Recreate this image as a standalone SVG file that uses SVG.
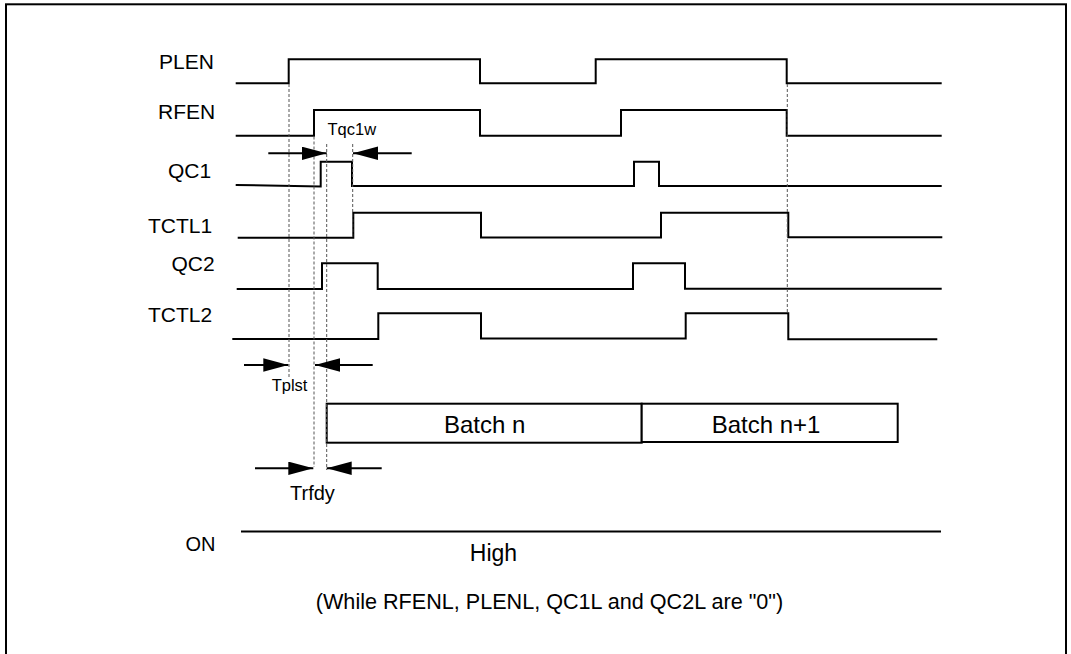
<svg xmlns="http://www.w3.org/2000/svg" width="1071" height="654" viewBox="0 0 1071 654">
<style>
text{font-family:"Liberation Sans",Arial,sans-serif;fill:#000}
.sig{font-size:21px}
.wave{fill:none;stroke:#000;stroke-width:2;stroke-linejoin:miter}
.dash{fill:none;stroke:#555;stroke-width:1;stroke-dasharray:3,2}
.arr{stroke:#000;stroke-width:2;marker-end:url(#ah)}
.box{fill:#fff;stroke:#000;stroke-width:2}
</style>
<defs>
<marker id="ah" markerUnits="userSpaceOnUse" markerWidth="26" markerHeight="14" refX="25" refY="6.7" orient="auto">
<path d="M0,0 L25,6.7 L0,13.4 Z" fill="#000"/>
</marker>
</defs>
<rect x="0" y="0" width="1071" height="654" fill="#fff"/>
<rect id="frame" x="6" y="4.3" width="1060" height="680" fill="none" stroke="#000" stroke-width="2"/>

<g id="plen">
<text class="sig" x="159" y="69.3">PLEN</text>
<path class="wave" d="M235.7,83.3 H288.7 V59.3 H480 V83.3 H595.7 V59.3 H786.7 V83.3 H941.7"/>
</g>
<g id="rfen">
<text class="sig" x="158" y="119.3">RFEN</text>
<path class="wave" d="M235.7,135.7 H314 V110 H480 V135.7 H621 V110 H786.7 V135.7 H941.7"/>
</g>
<g id="qc1">
<text class="sig" x="168" y="178.3">QC1</text>
<path class="wave" d="M235.7,185 L320.7,186.5 V161.7 H352 V186 H634 V161.7 H659 V186 H941.7"/>
</g>
<g id="tctl1">
<text class="sig" x="148" y="233.3">TCTL1</text>
<path class="wave" d="M237.7,237.7 H353.3 V212.7 H481 V237.5 H661 V212.7 H788.3 V237.3 H942.3"/>
</g>
<g id="qc2">
<text class="sig" x="171.5" y="271">QC2</text>
<path class="wave" d="M236.7,289 H322 V263.3 H377.7 V289 H633 V263.3 H685 V288.7 H941.7"/>
</g>
<g id="tctl2">
<text class="sig" x="148" y="322.3">TCTL2</text>
<path class="wave" d="M232.3,339 H378.3 V313.3 H481 V338.5 H685.7 V313.3 H788.3 V339.3 H937.3"/>
</g>

<g id="batch-n">
<rect class="box" x="326.7" y="403.7" width="315" height="39"/>
<text x="484.7" y="432.7" font-size="24" text-anchor="middle">Batch n</text>
</g>
<g id="batch-n1">
<rect class="box" x="641.7" y="403.7" width="256" height="38.3"/>
<text x="766" y="432.7" font-size="24" text-anchor="middle">Batch n+1</text>
</g>

<g id="on">
<text x="185.5" y="550.7" font-size="20">ON</text>
<line x1="241" y1="531.5" x2="941" y2="531.5" stroke="#000" stroke-width="2"/>
<text x="493.5" y="560.7" font-size="23" text-anchor="middle">High</text>
</g>

<g id="note">
<text x="549.5" y="609.3" font-size="21.6" text-anchor="middle">(While RFENL, PLENL, QC1L and QC2L are "0")</text>
</g>

<g id="connectors">
<line class="dash" x1="289" y1="84" x2="289" y2="377"/>
<line class="dash" x1="314" y1="136.5" x2="314" y2="467"/>
<line class="dash" x1="326.7" y1="144" x2="326.7" y2="470"/>
<line class="dash" x1="352.7" y1="144" x2="352.7" y2="237"/>
<line class="dash" x1="787.3" y1="84" x2="787.3" y2="313"/>

<line class="arr" x1="268.3" y1="153.3" x2="326.7" y2="153.3"/>
<line class="arr" x1="411.7" y1="153.3" x2="353" y2="153.3"/>
<text x="327.5" y="135" font-size="16.5">Tqc1w</text>

<line class="arr" x1="244" y1="365" x2="288.3" y2="365"/>
<line class="arr" x1="372.7" y1="365" x2="315" y2="365"/>
<text x="271.7" y="391" font-size="16.5">Tplst</text>

<line class="arr" x1="255" y1="468.3" x2="313.3" y2="468.3"/>
<line class="arr" x1="381.7" y1="468.3" x2="326.7" y2="468.3"/>
<text x="290" y="500" font-size="20">Trfdy</text>
</g>
</svg>
